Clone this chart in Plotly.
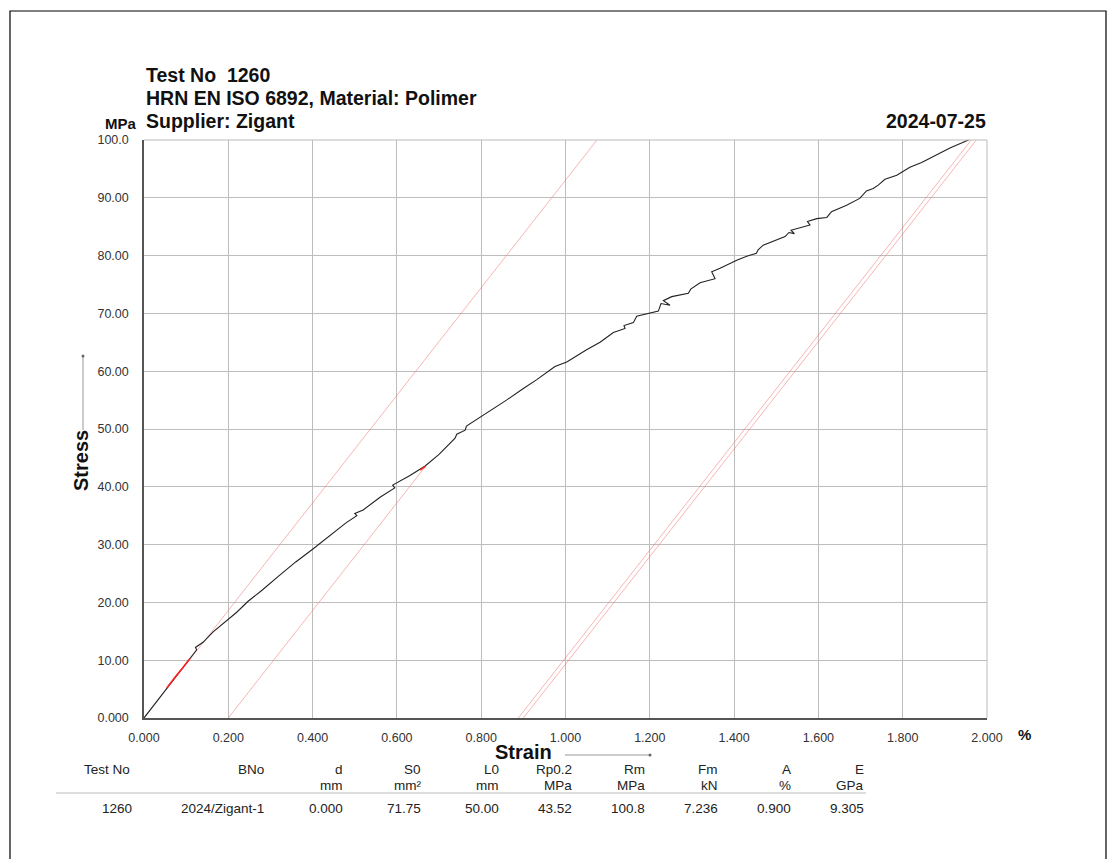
import plotly.graph_objects as go

# ---------------- data ----------------
strain = [0.0, 0.02, 0.04, 0.054, 0.06, 0.075, 0.09, 0.10, 0.109, 0.118, 0.125, 0.122, 0.14, 0.164, 0.18,
          0.196, 0.22, 0.247, 0.28, 0.32, 0.36, 0.40, 0.44, 0.48, 0.505, 0.50, 0.52, 0.56, 0.595, 0.59,
          0.63, 0.667, 0.70, 0.738, 0.742, 0.762, 0.765, 0.797, 0.83, 0.86, 0.90, 0.931, 0.975, 1.003,
          1.05, 1.082, 1.1135, 1.1412, 1.1388, 1.161, 1.1689, 1.2005, 1.2203, 1.2266, 1.248, 1.2322,
          1.252, 1.2915, 1.2971, 1.3192, 1.3548, 1.3469, 1.3667, 1.4063, 1.430, 1.453, 1.457,
          1.469, 1.497, 1.521, 1.530, 1.543, 1.535, 1.564, 1.580, 1.574, 1.596, 1.620, 1.631,
          1.667, 1.698, 1.714, 1.730, 1.742, 1.758, 1.786, 1.817, 1.845, 1.881, 1.912, 1.956, 1.975]
stress = [0.0, 1.9, 3.8, 5.2, 5.8, 7.2, 8.5, 9.5, 10.3, 11.2, 11.8, 12.2, 13.1, 14.9, 15.9,
          16.9, 18.3, 20.2, 22.1, 24.6, 27.0, 29.2, 31.5, 33.8, 35.0, 35.4, 36.0, 38.2, 39.8, 40.3,
          41.9, 43.6, 45.6, 48.4, 49.1, 49.8, 50.5, 52.0, 53.6, 55.0, 57.0, 58.5, 60.8, 61.6,
          63.7, 65.0, 66.7, 67.4, 67.9, 68.4, 69.5, 70.1, 70.4, 71.7, 71.4, 72.2,
          72.9, 73.5, 74.2, 75.3, 76.0, 77.2, 77.8, 79.2, 79.9, 80.4, 81.0,
          81.8, 82.6, 83.3, 84.0, 83.8, 84.4, 84.9, 85.3, 85.9, 86.4, 86.6, 87.6,
          88.7, 89.9, 91.2, 91.6, 92.2, 93.2, 93.9, 95.3, 96.1, 97.4, 98.6, 100.0, 100.8]

# red (modulus fit) portion of the curve
fit_strain = [0.054, 0.06, 0.075, 0.09, 0.10, 0.109]
fit_stress = [5.2, 5.8, 7.2, 8.5, 9.5, 10.3]

E_gpa = 9.305
Rp02 = 43.52
A_pct = 0.900
Rm = 100.8
offset = 0.2
break_line_starts = [0.888, 0.900]

x_ticks = [0.0, 0.2, 0.4, 0.6, 0.8, 1.0, 1.2, 1.4, 1.6, 1.8, 2.0]
x_ticktext = ["0.000", "0.200", "0.400", "0.600", "0.800", "1.000", "1.200", "1.400", "1.600", "1.800", "2.000"]
y_ticks = [0, 10, 20, 30, 40, 50, 60, 70, 80, 90, 100]
y_ticktext = ["0.000", "10.00", "20.00", "30.00", "40.00", "50.00", "60.00", "70.00", "80.00", "90.00", "100.0"]

table_headers = ["Test No", "BNo", "d", "S0", "L0", "Rp0.2", "Rm", "Fm", "A", "E"]
table_units = ["", "", "mm", "mm²", "mm", "MPa", "MPa", "kN", "%", "GPa"]
table_values = ["1260", "2024/Zigant-1", "0.000", "71.75", "50.00", "43.52", "100.8", "7.236", "0.900", "9.305"]

title_lines = ["Test No\u00a0 1260", "HRN EN ISO 6892, Material: Polimer", "Supplier: Zigant"]
date_text = "2024-07-25"

# ---------------- layout geometry ----------------
OFF = 8  # page body margin
W, H = 1107, 851
Lf, Rf, Tf, Bf = 144 - OFF, 987 - OFF, 140 - OFF, 718 - OFF
FONT = "Liberation Sans, Arial, Helvetica, sans-serif"


def px(x):
    return (x - OFF - Lf) / (Rf - Lf)


def py(y):
    return (Bf - (y - OFF)) / (Bf - Tf)


slope = E_gpa * 10.0  # MPa per % strain

fig = go.Figure()
redline = dict(color="rgba(240,120,120,0.55)", width=1)

# modulus line from origin
fig.add_trace(go.Scatter(x=[0, 102 / slope], y=[0, 102], mode="lines", line=redline, hoverinfo="skip"))
# 0.2 offset line up to Rp0.2
fig.add_trace(go.Scatter(x=[offset, offset + Rp02 / slope], y=[0, Rp02], mode="lines",
                         line=redline, hoverinfo="skip"))
# break / elongation lines
for s0 in break_line_starts:
    fig.add_trace(go.Scatter(x=[s0, s0 + 102 / slope], y=[0, 102], mode="lines",
                             line=redline, hoverinfo="skip"))

# main curve
fig.add_trace(go.Scatter(x=strain, y=stress, mode="lines",
                         line=dict(color="#222222", width=1.1), hoverinfo="skip"))
# red fitted part
fig.add_trace(go.Scatter(x=fit_strain, y=fit_stress, mode="lines",
                         line=dict(color="#ff2222", width=1.6), hoverinfo="skip"))
fig.add_trace(go.Scatter(x=[0.655, offset + Rp02 / slope], y=[42.9, Rp02], mode="lines",
                         line=dict(color="#ff2222", width=1.5), hoverinfo="skip"))

ann = []


def text(x, y, s, size=12, bold=False, xa="left", ya="middle", angle=0, color="#222222"):
    ann.append(dict(x=px(x), y=py(y), xref="paper", yref="paper", text=("<b>%s</b>" % s) if bold else s,
                    showarrow=False, xanchor=xa, yanchor=ya, textangle=angle,
                    font=dict(family=FONT, size=size, color=color)))


# titles
text(144, 75, title_lines[0], size=19.5, bold=True, color="#111111")
text(144, 98, title_lines[1], size=19.5, bold=True, color="#111111")
text(144, 121, title_lines[2], size=19.5, bold=True, color="#111111")
text(139, 123, "MPa", size=15, bold=True, xa="right", color="#111111")
text(988, 121, date_text, size=19.5, bold=True, xa="right", color="#111111")
text(1016, 735, "%", size=15, bold=True, color="#111111")
text(523, 752, "Strain", size=20, bold=True, xa="center", color="#111111")
text(81, 461, "Stress", size=20, bold=True, xa="center", angle=-90, color="#111111")

# table
right_edges = [131, 266, 345, 423, 501, 574, 647, 720, 793, 866]
for i, h in enumerate(table_headers):
    if i == 0:
        text(82, 769, h, size=13.5)
    else:
        text(right_edges[i], 769, h, size=13.5, xa="right")
    if table_units[i]:
        text(right_edges[i], 785, table_units[i], size=13.5, xa="right")
for i, v in enumerate(table_values):
    text(right_edges[i] + (3 if i == 0 else 0), 808, v, size=13.5, xa="right")

shapes = [
    # page border
    dict(type="rect", xref="paper", yref="paper", x0=px(10), x1=px(1106), y0=py(880), y1=py(11),
         line=dict(color="#000000", width=1.2), layer="below"),
    # table rule
    dict(type="line", xref="paper", yref="paper", x0=px(56), x1=px(866), y0=py(793), y1=py(793),
         line=dict(color="#bbbbbb", width=1)),
    # strain arrow
    dict(type="line", xref="paper", yref="paper", x0=px(565), x1=px(650), y0=py(755), y1=py(755),
         line=dict(color="#999999", width=1)),
    dict(type="circle", xref="paper", yref="paper", x0=px(648.5), x1=px(651.5), y0=py(756.5), y1=py(753.5),
         fillcolor="#666666", line=dict(width=0)),
    # stress arrow
    dict(type="line", xref="paper", yref="paper", x0=px(83), x1=px(83), y0=py(430), y1=py(356),
         line=dict(color="#999999", width=1)),
    dict(type="circle", xref="paper", yref="paper", x0=px(81.5), x1=px(84.5), y0=py(357.5), y1=py(354.5),
         fillcolor="#666666", line=dict(width=0)),
    # plot frame top/right
    dict(type="line", xref="paper", yref="paper", x0=0, x1=1, y0=1, y1=1,
         line=dict(color="#bbbbbb", width=1)),
    dict(type="line", xref="paper", yref="paper", x0=1, x1=1, y0=0, y1=1,
         line=dict(color="#bbbbbb", width=1)),
]

fig.update_layout(
    width=W, height=H,
    margin=dict(l=Lf, r=W - Rf, t=Tf, b=H - Bf),
    paper_bgcolor="white", plot_bgcolor="white",
    showlegend=False,
    annotations=ann, shapes=shapes,
    font=dict(family=FONT, size=12, color="#333333"),
    xaxis=dict(range=[0, 2], tickvals=x_ticks, ticktext=x_ticktext, showgrid=True,
               gridcolor="#bdbdbd", gridwidth=1, zeroline=False, showline=True,
               linecolor="#555555", linewidth=1.5, ticks="", ticklabelstandoff=7,
               tickfont=dict(family=FONT, size=12.5, color="#333333"), fixedrange=True),
    yaxis=dict(range=[0, 100], tickvals=y_ticks, ticktext=y_ticktext, showgrid=True,
               gridcolor="#bdbdbd", gridwidth=1, zeroline=False, showline=True,
               linecolor="#555555", linewidth=1.5, ticks="", ticklabelstandoff=11,
               tickfont=dict(family=FONT, size=12.5, color="#333333"), fixedrange=True),
)

fig.write_html("out.html")
